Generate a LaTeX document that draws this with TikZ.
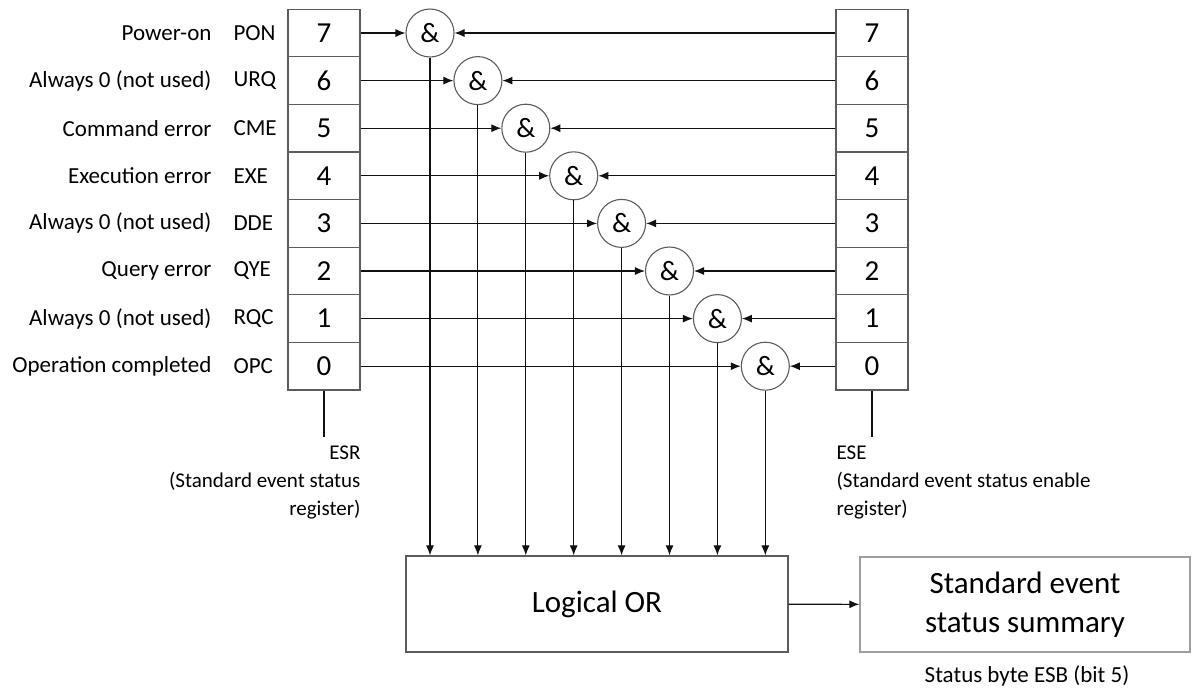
\documentclass[tikz,border=0pt]{standalone}
\usepackage{fontspec}
\setmainfont{Carlito}
\usetikzlibrary{arrows.meta,positioning}
\definecolor{ink}{HTML}{111111}
\definecolor{frame}{HTML}{5C5C5C}
\definecolor{pale}{HTML}{9E9E9E}

\begin{document}
\begin{tikzpicture}[x=1pt,y=-1pt,>={Latex[length=10pt,width=8pt]},line width=1.1pt,
  cell/.style={draw=frame,line width=1.3pt,minimum width=72pt,minimum height=47.6pt,inner sep=0pt,font=\fontsize{29}{32}\selectfont},
  gate/.style={draw=frame,circle,line width=1.1pt,minimum size=48pt,inner sep=0pt,font=\fontsize{28}{32}\selectfont},
  lbl/.style={inner sep=0pt,font=\fontsize{23}{28}\selectfont},
  note/.style={inner sep=0pt,font=\fontsize{21}{28}\selectfont}]
\useasboundingbox (0,0) rectangle (1193,689);
\node[draw=frame,line width=1.3pt,minimum width=382pt,minimum height=96pt,font=\fontsize{31}{36}\selectfont] (or) at (597,604) {Logical OR};
\node[draw=pale,line width=1.3pt,minimum width=330pt,minimum height=95pt,align=center,font=\fontsize{31}{39}\selectfont] (sum) at (1025,604.5) {Standard event\\status summary};
\node[lbl] (esb) at (1027,676) {Status byte ESB (bit 5)};
\draw[->,ink] (or) -- (sum);
% bit rows
\foreach \b/\abbr/\desc [evaluate=\b as \y using {33+(7-\b)*47.6},
    evaluate=\b as \x using {430+(7-\b)*47.9}] in
    {7/PON/Power-on,6/URQ/Always 0 (not used),5/CME/Command error,4/EXE/Execution error,
     3/DDE/Always 0 (not used),2/QYE/Query error,1/RQC/Always 0 (not used),0/OPC/Operation completed}{
  \node[cell] (esr\b) at (324,\y) {\b};
  \node[cell] (ese\b) at (872,\y) {\b};
  \node[gate] (and\b) at (\x,\y) {\&};
  \node[lbl,anchor=east] (desc\b) at (212,\y) {\desc};
  \node[lbl,anchor=west] (abbr\b) at (233,\y) {\abbr};
  \draw[->,ink] (esr\b) -- (and\b);
  \draw[->,ink] (ese\b) -- (and\b);
  \draw[->,ink] (and\b) -- (and\b |- or.north);
}
% register captions
\coordinate (esrtail) at (324,437);
\coordinate (esetail) at (872,437);
\draw[ink] (esr0.south) -- (esrtail);
\draw[ink] (ese0.south) -- (esetail);
\node[note,anchor=north east,align=right] (esrname) at (361,445) {ESR\\(Standard event status\\register)};
\node[note,anchor=north west,align=left] (esename) at (836,445) {ESE\\(Standard event status enable\\register)};
\end{tikzpicture}
\end{document}
